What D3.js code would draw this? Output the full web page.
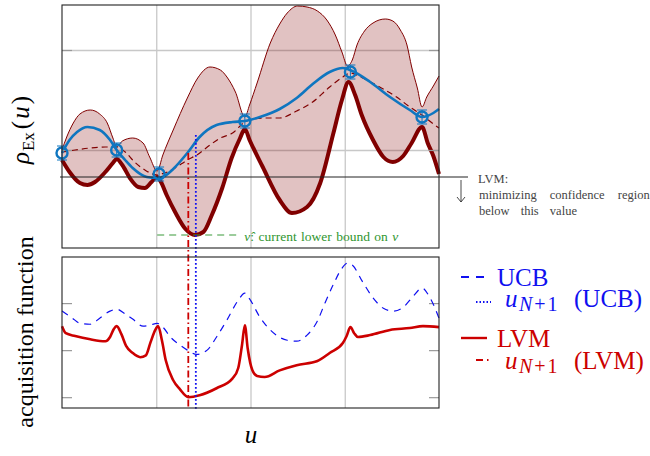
<!DOCTYPE html>
<html>
<head>
<meta charset="utf-8">
<script src="https://cdn.jsdelivr.net/npm/d3@7"></script>
<style>
  body { margin: 0; background: #fff; }
  svg text { font-family: "Liberation Serif", "Times New Roman", serif; }
</style>
</head>
<body>
<svg id="chart" width="650" height="456"></svg>
<script>
// values: u in [0,4], rho in arbitrary units
const obsU   = [0, 0.58, 1.03, 1.94, 3.06, 3.82];
const obsV   = [0.97, 1.00, 0.76, 1.29, 1.78, 1.33];
const obsErr = 0.07;

const meanGP = [[0,0.97],[0.08,1.10],[0.16,1.18],[0.27,1.23],[0.40,1.20],[0.51,1.10],[0.58,1.00],[0.67,0.90],
  [0.75,0.82],[0.90,0.73],[1.01,0.72],[1.09,0.74],[1.18,0.81],[1.33,0.97],[1.46,1.13],[1.64,1.25],[1.81,1.28],
  [1.94,1.29],[2.10,1.33],[2.31,1.41],[2.49,1.52],[2.66,1.66],[2.84,1.78],[2.98,1.82],[3.08,1.79],[3.27,1.68],
  [3.48,1.53],[3.69,1.40],[3.82,1.33],[3.94,1.37],[4.00,1.41]];

const centre = [[0,0.98],[0.14,1.00],[0.30,1.02],[0.46,1.03],[0.58,1.03],[0.67,0.98],[0.77,0.88],[0.88,0.80],
  [1.01,0.75],[1.09,0.77],[1.20,0.82],[1.33,0.90],[1.43,0.95],[1.57,1.05],[1.68,1.12],[1.81,1.17],[1.94,1.28],
  [1.99,1.30],[2.15,1.32],[2.31,1.32],[2.49,1.39],[2.66,1.48],[2.84,1.63],[2.98,1.73],[3.06,1.77],[3.19,1.72],
  [3.37,1.63],[3.55,1.53],[3.69,1.43],[3.82,1.35],[3.94,1.26],[4.00,1.22]];

const upper = [[0,1.00],[0.05,1.13],[0.12,1.27],[0.19,1.36],[0.30,1.40],[0.40,1.36],[0.48,1.27],[0.54,1.12],
  [0.58,1.03],[0.64,1.09],[0.75,1.12],[0.86,1.07],[0.93,0.93],[1.01,0.79],[1.07,0.95],[1.18,1.20],[1.33,1.52],
  [1.44,1.72],[1.57,1.83],[1.68,1.80],[1.75,1.73],[1.84,1.58],[1.94,1.33],[1.99,1.45],[2.07,1.67],[2.21,2.07],
  [2.31,2.26],[2.39,2.37],[2.50,2.44],[2.60,2.43],[2.71,2.39],[2.81,2.30],[2.90,2.15],[2.97,1.98],[3.03,1.84],
  [3.08,1.90],[3.13,2.05],[3.21,2.19],[3.30,2.27],[3.43,2.31],[3.51,2.29],[3.59,2.20],[3.66,2.05],[3.71,1.83],
  [3.77,1.62],[3.82,1.43],[3.87,1.53],[3.94,1.64],[4.00,1.74]];

const lower = [[0,0.90],[0.08,0.78],[0.19,0.67],[0.27,0.65],[0.35,0.68],[0.46,0.78],[0.54,0.87],[0.58,0.91],
  [0.64,0.85],[0.72,0.72],[0.81,0.63],[0.88,0.62],[0.95,0.68],[1.01,0.73],[1.05,0.68],[1.11,0.55],[1.20,0.38],
  [1.31,0.21],[1.41,0.15],[1.50,0.18],[1.59,0.35],[1.70,0.62],[1.80,0.92],[1.89,1.12],[1.94,1.21],[1.99,1.10],
  [2.13,0.83],[2.31,0.50],[2.44,0.37],[2.60,0.43],[2.74,0.67],[2.88,1.17],[2.97,1.50],[3.04,1.68],[3.11,1.55],
  [3.18,1.35],[3.30,1.10],[3.41,0.93],[3.51,0.88],[3.62,0.94],[3.71,1.07],[3.82,1.23],[3.88,1.07],[3.94,0.94],
  [4.00,0.76]];

const ucb = [[0,2.83],[0.11,2.68],[0.19,2.57],[0.30,2.55],[0.40,2.68],[0.51,2.83],[0.58,2.87],[0.67,2.77],
  [0.75,2.66],[0.86,2.51],[0.93,2.53],[1.01,2.57],[1.07,2.49],[1.15,2.28],[1.25,2.11],[1.33,2.00],[1.43,1.91],
  [1.54,2.00],[1.64,2.28],[1.75,2.64],[1.87,3.06],[1.94,3.21],[1.99,3.09],[2.10,2.70],[2.21,2.43],[2.39,2.21],
  [2.49,2.19],[2.60,2.32],[2.71,2.62],[2.79,3.00],[2.88,3.40],[2.97,3.74],[3.03,3.85],[3.08,3.81],[3.19,3.45],
  [3.30,3.11],[3.41,2.89],[3.51,2.83],[3.62,2.91],[3.72,3.13],[3.82,3.32],[3.90,3.13],[4.00,2.68]];

const lvm = [[0,2.51],[0.04,2.36],[0.14,2.30],[0.30,2.23],[0.46,2.19],[0.51,2.28],[0.55,2.45],[0.58,2.51],
  [0.63,2.34],[0.68,2.09],[0.75,1.94],[0.83,1.85],[0.89,1.89],[0.94,2.17],[0.99,2.43],[1.02,2.51],[1.06,2.21],
  [1.10,1.79],[1.18,1.36],[1.25,1.17],[1.34,1.00],[1.46,1.04],[1.64,1.19],[1.81,1.40],[1.87,1.62],[1.91,2.11],
  [1.94,2.53],[1.97,2.04],[2.02,1.57],[2.07,1.45],[2.15,1.43],[2.31,1.57],[2.49,1.68],[2.71,1.77],[2.84,1.94],
  [2.98,2.15],[3.02,2.30],[3.06,2.49],[3.10,2.36],[3.14,2.28],[3.27,2.32],[3.48,2.43],[3.69,2.47],[3.83,2.51],
  [4.00,2.49]];

const threshold = 0.73;           // LVM threshold line
const nuHat = 0.15, nuHatFrom = 1.01, nuHatTo = 1.86;
const nextLVM = [1.34, 0.97];     // u, top of marker
const nextUCB = [1.42, 1.15];
const gridU = [1, 2, 3], gridTop = [1, 2], gridBot = [1, 2, 3];

const svg = d3.select('#chart');
const L = 62, R = 439;
const x = d3.scaleLinear().domain([0, 4]).range([L, R]);
const yT = d3.scaleLinear().domain([0.02, 2.45]).range([248, 5]);
const yB = d3.scaleLinear().domain([0.77, 3.98]).range([408, 257]);
const maroon = '#800000', blue = '#0f76c0', ucbBlue = '#1010f0', red = '#cc0000';

function grid(g, y, y0, y1, hvals) {
  g.append('g').attr('transform', `translate(0,${y1})`)
    .call(d3.axisBottom(x).tickValues(gridU).tickSize(-(y1 - y0)).tickFormat(''))
    .call(a => { a.select('.domain').remove(); a.selectAll('line').attr('stroke', '#c8c8c8').attr('stroke-width', 1.3); });
  if (hvals) g.append('g').attr('transform', `translate(${L},0)`)
    .call(d3.axisLeft(y).tickValues(hvals).tickSize(-(R - L)).tickFormat(''))
    .call(a => { a.select('.domain').remove(); a.selectAll('line').attr('stroke', '#c8c8c8').attr('stroke-width', 1.3); });
}
function ticks(g, y, vals) {
  g.append('g').attr('transform', `translate(${L},0)`)
    .call(d3.axisLeft(y).tickValues(vals).tickSize(-10).tickFormat(''))
    .call(a => { a.select('.domain').remove(); a.selectAll('line').attr('stroke', '#999').attr('stroke-width', 1.2); });
  g.append('g').attr('transform', `translate(${R},0)`)
    .call(d3.axisRight(y).tickValues(vals).tickSize(-10).tickFormat(''))
    .call(a => { a.select('.domain').remove(); a.selectAll('line').attr('stroke', '#999').attr('stroke-width', 1.2); });
}

// ---------- top panel ----------
const topG = svg.append('g');
grid(topG, yT, 5, 248, gridTop);

const lineT = d3.line().x(d => x(d[0])).y(d => yT(d[1])).curve(d3.curveMonotoneX);
const band = lineT(upper) + lineT(lower.slice().reverse()).replace(/^M/, 'L') + 'Z';
topG.append('path').attr('d', band).attr('fill', maroon).attr('fill-opacity', 0.24);
topG.append('path').attr('d', lineT(upper)).attr('fill', 'none').attr('stroke', maroon).attr('stroke-width', 1);
topG.append('path').attr('d', lineT(lower)).attr('fill', 'none').attr('stroke', maroon).attr('stroke-width', 4);
topG.append('path').attr('d', lineT(centre)).attr('fill', 'none').attr('stroke', maroon)
  .attr('stroke-width', 1.2).attr('stroke-dasharray', '6,4');
topG.append('path').attr('d', lineT(meanGP)).attr('fill', 'none').attr('stroke', blue).attr('stroke-width', 2.6);
ticks(topG, yT, gridTop);

// threshold line and annotation
topG.append('line').attr('x1', L - 2).attr('x2', 468).attr('y1', yT(threshold)).attr('y2', yT(threshold))
  .attr('stroke', '#222').attr('stroke-width', 1);
const ax = 461, ay = yT(threshold) + 3;
topG.append('path').attr('d', `M${ax},${ay}V${ay + 22}M${ax - 4},${ay + 17}L${ax},${ay + 22}L${ax + 4},${ay + 17}`)
  .attr('fill', 'none').attr('stroke', '#333').attr('stroke-width', 0.9);
const note = topG.append('g').attr('fill', '#444').attr('font-size', 12.5);
note.append('text').attr('x', 478).attr('y', 183).text('LVM:');
note.append('text').attr('x', 479).attr('y', 199).attr('word-spacing', 10).text('minimizing confidence region');
note.append('text').attr('x', 479).attr('y', 215).attr('word-spacing', 8).text('below this value');

// nu-hat line
topG.append('line').attr('x1', x(nuHatFrom)).attr('x2', x(nuHatTo)).attr('y1', yT(nuHat)).attr('y2', yT(nuHat))
  .attr('stroke', '#3a9a3a').attr('stroke-width', 1.2).attr('stroke-dasharray', '7,5');
const gt = topG.append('text').attr('x', x(nuHatTo) + 7).attr('y', yT(nuHat) + 6)
  .attr('fill', '#2f962f').attr('font-size', 13.5).attr('word-spacing', 1);
gt.append('tspan').attr('font-style', 'italic').text('\u03BD\u0302');
gt.append('tspan').text(': current lower bound on ');
gt.append('tspan').attr('font-style', 'italic').text('\u03BD');

// ---------- bottom panel ----------
const botG = svg.append('g');
grid(botG, yB, 257, 408, null);
ticks(botG, yB, gridBot);
const lineB = d3.line().x(d => x(d[0])).y(d => yB(d[1])).curve(d3.curveMonotoneX);
botG.append('path').attr('d', lineB(ucb)).attr('fill', 'none').attr('stroke', ucbBlue)
  .attr('stroke-width', 1.2).attr('stroke-dasharray', '7,6');
botG.append('path').attr('d', lineB(lvm)).attr('fill', 'none').attr('stroke', red).attr('stroke-width', 2.6);

// next-sample markers through both panels
svg.append('line').attr('x1', x(nextLVM[0])).attr('x2', x(nextLVM[0])).attr('y1', yT(nextLVM[1])).attr('y2', 409)
  .attr('stroke', red).attr('stroke-width', 1.8).attr('stroke-dasharray', '7,3,1.5,3');
svg.append('line').attr('x1', x(nextUCB[0])).attr('x2', x(nextUCB[0])).attr('y1', yT(nextUCB[1])).attr('y2', 409)
  .attr('stroke', ucbBlue).attr('stroke-width', 1.8).attr('stroke-dasharray', '1.8,2.2');

// observations
const obs = topG.append('g').attr('stroke', blue).attr('fill', 'none');
obsU.forEach((u, i) => {
  const cx = x(u), y0 = yT(obsV[i] - obsErr), y1 = yT(obsV[i] + obsErr);
  obs.append('path').attr('d', `M${cx},${y0}V${y1}M${cx - 5},${y0}H${cx + 5}M${cx - 5},${y1}H${cx + 5}`).attr('stroke-width', 1);
  obs.append('circle').attr('cx', cx).attr('cy', yT(obsV[i])).attr('r', 5.5).attr('stroke-width', 2.4);
});

// frames
svg.append('rect').attr('x', L).attr('y', 5).attr('width', R - L).attr('height', 243)
  .attr('fill', 'none').attr('stroke', '#222').attr('stroke-width', 1.1);
svg.append('rect').attr('x', L).attr('y', 257).attr('width', R - L).attr('height', 151)
  .attr('fill', 'none').attr('stroke', '#222').attr('stroke-width', 1.1);

// axis labels
const yl = svg.append('text').attr('transform', 'translate(29,130) rotate(-90)')
  .attr('text-anchor', 'middle').attr('font-size', 25);
yl.append('tspan').attr('font-style', 'italic').text('\u03C1');
yl.append('tspan').attr('font-size', 17).attr('dy', 5).attr('dx', 1).text('Ex');
yl.append('tspan').attr('dy', -5).attr('dx', 3).text('(');
yl.append('tspan').attr('font-style', 'italic').attr('dx', 2).text('u');
yl.append('tspan').attr('dx', 2).text(')');
svg.append('text').attr('transform', 'translate(33,332) rotate(-90)').attr('text-anchor', 'middle')
  .attr('font-size', 24).text('acquisition function');
svg.append('text').attr('x', 251).attr('y', 443).attr('text-anchor', 'middle')
  .attr('font-size', 25).attr('font-style', 'italic').text('u');

// legend
const lg = svg.append('g');
lg.append('line').attr('x1', 461).attr('x2', 484).attr('y1', 277).attr('y2', 277)
  .attr('stroke', ucbBlue).attr('stroke-width', 1.8).attr('stroke-dasharray', '8,7');
lg.append('text').attr('x', 497).attr('y', 286).attr('fill', ucbBlue).attr('font-size', 25).text('UCB');
lg.append('line').attr('x1', 476).attr('x2', 491).attr('y1', 302).attr('y2', 302)
  .attr('stroke', ucbBlue).attr('stroke-width', 1.8).attr('stroke-dasharray', '1.5,2');
function uNext(yy, label, col) {
  const t = lg.append('text').attr('y', yy).attr('fill', col).attr('font-size', 25);
  t.append('tspan').attr('x', 505).attr('font-style', 'italic').text('u');
  t.append('tspan').attr('x', 519).attr('font-size', 20).attr('dy', 4).attr('font-style', 'italic').text('N');
  t.append('tspan').attr('font-size', 20).attr('dx', 2).attr('letter-spacing', 2).text('+1');
  t.append('tspan').attr('x', 574).attr('dy', -4).text('(' + label + ')');
}
uNext(307, 'UCB', ucbBlue);
lg.append('line').attr('x1', 461).attr('x2', 487).attr('y1', 338).attr('y2', 338)
  .attr('stroke', red).attr('stroke-width', 2.4);
lg.append('text').attr('x', 497).attr('y', 347).attr('fill', red).attr('font-size', 25).text('LVM');
lg.append('line').attr('x1', 476).attr('x2', 491).attr('y1', 360).attr('y2', 360)
  .attr('stroke', red).attr('stroke-width', 1.8).attr('stroke-dasharray', '7,4,1.5,3');
uNext(369, 'LVM', red);
</script>
</body>
</html>
